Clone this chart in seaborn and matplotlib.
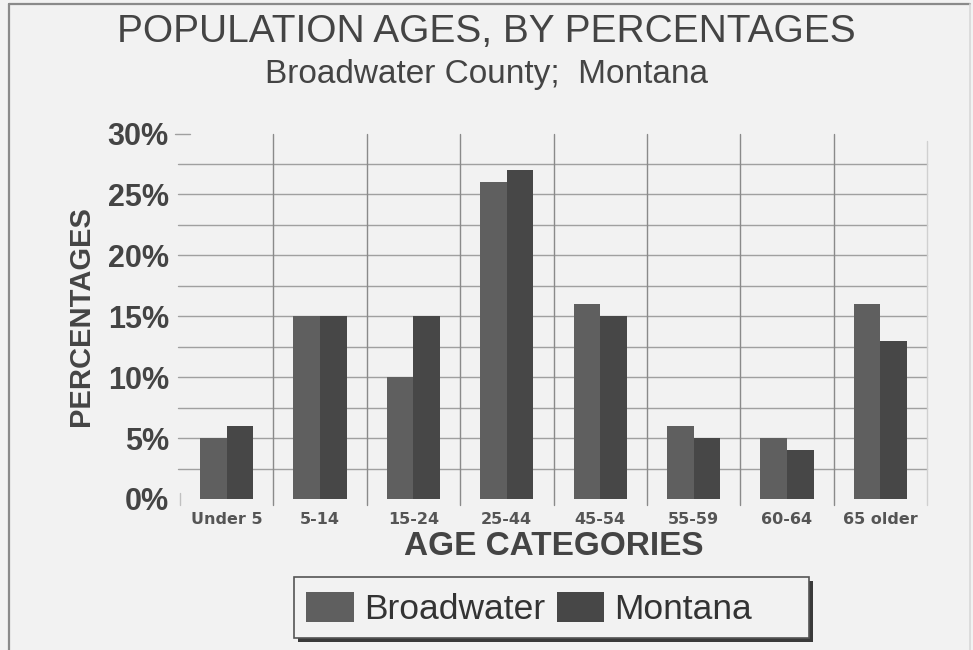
import matplotlib
matplotlib.use("Agg")
import matplotlib.pyplot as plt
from matplotlib.patches import Rectangle
import seaborn as sns
import pandas as pd

# Age groups and percentage shares per area
categories = ["Under 5", "5-14", "15-24", "25-44", "45-54", "55-59", "60-64", "65 older"]
broadwater = [5, 15, 10, 26, 16, 6, 5, 16]
montana = [6, 15, 15, 27, 15, 5, 4, 13]
series_names = ["Broadwater", "Montana"]
y_ticks = [0, 5, 10, 15, 20, 25, 30]
y_tick_labels = ["0%", "5%", "10%", "15%", "20%", "25%", "30%"]

df = pd.DataFrame({
    "age": categories * 2,
    "pct": broadwater + montana,
    "area": [series_names[0]] * len(categories) + [series_names[1]] * len(categories),
})

sns.set_theme(style="white")
plt.rcParams["font.family"] = ["Liberation Sans", "DejaVu Sans"]

BG = "#f2f2f2"
TXT = "#444444"
palette = {"Broadwater": "#5f5f5f", "Montana": "#474747"}
W, H = 973, 650

fig = plt.figure(figsize=(9.73, 6.5), dpi=100, facecolor=BG)
ax = fig.add_axes([180 / W, 1 - 499 / H, 747 / W, (499 - 133.5) / H])
ax.set_facecolor(BG)

# outer frame (left, top, right edges)
fig.add_artist(plt.Line2D([9 / W, 9 / W], [0, 1 - 4 / H], transform=fig.transFigure,
                          color="#8a8a8a", lw=1.6))
fig.add_artist(plt.Line2D([9 / W, 970 / W], [1 - 4 / H, 1 - 4 / H], transform=fig.transFigure,
                          color="#8a8a8a", lw=1.6))
fig.add_artist(plt.Line2D([970 / W, 970 / W], [0, 1 - 4 / H], transform=fig.transFigure,
                          color="#d8d8d8", lw=1.2))

# horizontal grid every 2.5%
for v in [2.5 * i for i in range(1, 12)]:
    ax.plot([-0.003, 1.0], [v, v], transform=ax.get_yaxis_transform(), color="#a0a0a0",
            lw=1.0, clip_on=False, zorder=0)
ax.plot([-0.007, 0.013], [30, 30], transform=ax.get_yaxis_transform(), color="#a0a0a0",
        lw=1.0, clip_on=False, zorder=0)
# vertical separators between age groups
for i in range(1, len(categories)):
    ax.plot([i - 0.5, i - 0.5], [-0.016, 1.0], transform=ax.get_xaxis_transform(),
            color="#8a8a8a", lw=1.0, clip_on=False, zorder=0)
ax.plot([len(categories) - 0.5] * 2, [-0.016, 0.98], transform=ax.get_xaxis_transform(),
        color="#d0d0d0", lw=1.0, clip_on=False, zorder=0)
ax.plot([-0.5, -0.5], [-0.016, 0.016], transform=ax.get_xaxis_transform(),
        color="#c0c0c0", lw=1.0, clip_on=False, zorder=0)

sns.barplot(data=df, x="age", y="pct", hue="area", order=categories, hue_order=series_names,
            palette=palette, width=0.57, saturation=1, gap=0, ax=ax, legend=False,
            edgecolor="none", linewidth=0, zorder=2)

ax.set_xlim(-0.5, len(categories) - 0.5)
ax.set_ylim(0, 30)
for s in ax.spines.values():
    s.set_visible(False)

ax.set_yticks(y_ticks)
ax.set_yticklabels(y_tick_labels, fontsize=22, fontweight="bold", color=TXT)
ax.tick_params(axis="y", length=0, pad=8)
ax.tick_params(axis="x", length=0, pad=9)
ax.set_xticks(range(len(categories)))
ax.set_xticklabels(categories, fontsize=11.5, fontweight="bold", color="#555555", family="DejaVu Sans")

ax.set_xlabel("AGE CATEGORIES", fontsize=24, fontweight="bold", color=TXT, labelpad=3)
ax.set_ylabel("PERCENTAGES", fontsize=21, fontweight="bold", color=TXT, labelpad=9)

fig.text(0.4995, 1 - 32 / H, "POPULATION AGES, BY PERCENTAGES", ha="center", va="center",
         fontsize=28, color=TXT)
fig.text(0.4995, 1 - 75 / H, "Broadwater County;  Montana", ha="center", va="center",
         fontsize=24, color=TXT)

# legend box with drop shadow
bx0, bx1, by0, by1 = 294, 809, 577, 638
box_w, box_h = (bx1 - bx0) / W, (by1 - by0) / H
fig.add_artist(Rectangle(((bx0 + 4) / W, 1 - (by1 + 4) / H), box_w, box_h,
                         transform=fig.transFigure, facecolor="#3a3a3a",
                         edgecolor="none", zorder=1))
fig.add_artist(Rectangle((bx0 / W, 1 - by1 / H), box_w, box_h,
                         transform=fig.transFigure, facecolor=BG, edgecolor="#555555",
                         lw=1.2, zorder=2))

handles = [Rectangle((0, 0), 1, 1, facecolor=palette[n], edgecolor="none") for n in series_names]
leg = fig.legend(handles, series_names, loc="center left", bbox_to_anchor=(306 / W, 1 - 609 / H),
                 ncol=2, fontsize=25.5, frameon=False,
                 handlelength=1.35, handleheight=0.95, handletextpad=0.28, columnspacing=0.33,
                 borderpad=0, borderaxespad=0, labelcolor="#333333")
leg.set_zorder(3)

fig.savefig("out.png", dpi=100, facecolor=BG)
